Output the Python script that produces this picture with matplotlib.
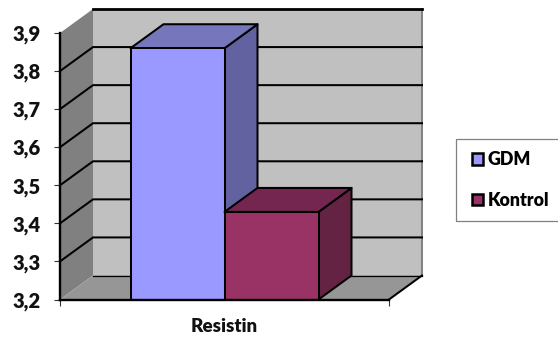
import matplotlib
matplotlib.use("Agg")
import matplotlib.pyplot as plt
from matplotlib.patches import Polygon, Patch, Rectangle
from matplotlib.legend_handler import HandlerPatch

W, H = 558, 340
series = ["GDM", "Kontrol"]
values = [3.86, 3.43]
category = "Resistin"
yticks = [3.2, 3.3, 3.4, 3.5, 3.6, 3.7, 3.8, 3.9]
ytick_labels = ["3,2", "3,3", "3,4", "3,5", "3,6", "3,7", "3,8", "3,9"]

front = ["#9999FF", "#993366"]
top = ["#7676BD", "#752650"]
side = ["#6262A0", "#652343"]
plt.rcParams["font.family"] = ["Lato", "DejaVu Sans"]
WEIGHT = "heavy"

fig = plt.figure(figsize=(W / 100, H / 100), dpi=100)
ax = fig.add_axes([60 / W, (H - 299.5) / H, 329 / W, 266.5 / H])
ax.set_xlim(0, 1)
ax.set_ylim(yticks[0], yticks[-1])
ax.patch.set_visible(False)

DX, DY = 33 / 329, 24 / 266.5 * 0.7   # depth of the 3D box, in axis units
LW = 1.45
y0, y1 = yticks[0], yticks[-1]


def face(pts, color, z, lw=0.0, ec="none"):
    ax.add_patch(Polygon(pts, closed=True, facecolor=color, edgecolor=ec,
                         linewidth=lw, zorder=z, clip_on=False, joinstyle="round"))


# walls and floor
face([(0, y0), (DX, y0 + DY), (DX, y1 + DY), (0, y1)], "#808080", 1)
face([(DX, y0 + DY), (1 + DX, y0 + DY), (1 + DX, y1 + DY), (DX, y1 + DY)], "#C0C0C0", 1)
face([(0, y0), (1, y0), (1 + DX, y0 + DY), (DX, y0 + DY)], "#969696", 1)
ax.plot([1 + DX, 1 + DX], [y0 + DY, y1 + DY], color="#808080", lw=1.4, zorder=1.5, clip_on=False)

# gridlines
for t in yticks[1:-1]:
    ax.plot([0, DX, 1 + DX], [t, t + DY, t + DY], color="black", lw=LW, zorder=2, clip_on=False)
ax.plot([DX, 1 + DX], [y1 + DY, y1 + DY], color="black", lw=2.0, zorder=2, clip_on=False)
ax.plot([DX, 1 + DX], [y0 + DY, y0 + DY], color="black", lw=0.9, zorder=2, clip_on=False)
ax.plot([1, 1 + DX], [y0, y0 + DY], color="black", lw=LW, zorder=2, clip_on=False)

# bars
bw = 94 / 329
lefts = [0.5 - bw, 0.5]
for i, (v, l) in enumerate(zip(values, lefts)):
    z = 3 + i
    r = l + bw
    face([(r, y0), (r + DX, y0 + DY), (r + DX, v + DY), (r, v)], side[i], z, LW, "black")
    face([(l, v), (r, v), (r + DX, v + DY), (l + DX, v + DY)], top[i], z, LW, "black")
    ax.bar(l, v - y0, bottom=y0, width=bw, align="edge", color=front[i],
           edgecolor="black", linewidth=LW, zorder=z + 0.1, clip_on=False)

# axes
for s in ("top", "right"):
    ax.spines[s].set_visible(False)
for s in ("left", "bottom"):
    ax.spines[s].set_linewidth(1.7)
    ax.spines[s].set_zorder(6)
ax.set_yticks(yticks, ytick_labels, fontsize=14.5, fontweight=WEIGHT, color="#111111")
ax.set_xticks([0, 1], ["", ""])
ax.tick_params(axis="both", length=4, width=0.8, color="#333333", pad=5)
ax.tick_params(axis="y", pad=10)
ax.set_xlabel(category, fontsize=13.5, fontweight=WEIGHT, color="#111111", labelpad=4)


# legend: key square sits at the right end of a wider handle box
def right_square(legend, orig_handle, xdescent, ydescent, width, height, fontsize):
    return Rectangle((width - height - xdescent, -ydescent), height, height)


handles = [Patch(facecolor=c, edgecolor="black", linewidth=1.8) for c in front]
leg = fig.legend(handles, series, loc="lower left",
                 bbox_to_anchor=(456 / W, (H - 221) / H, 104 / W, 82 / H),
                 mode="expand", borderaxespad=0, handlelength=0.86,
                 handleheight=0.62, handletextpad=0.22, labelspacing=1.34,
                 borderpad=0.68, fancybox=False, framealpha=1, edgecolor="#808080",
                 prop={"size": 12.8, "weight": WEIGHT},
                 handler_map={Patch: HandlerPatch(patch_func=right_square)})
leg.get_frame().set_linewidth(0.9)

fig.savefig("out.png", dpi=100)
